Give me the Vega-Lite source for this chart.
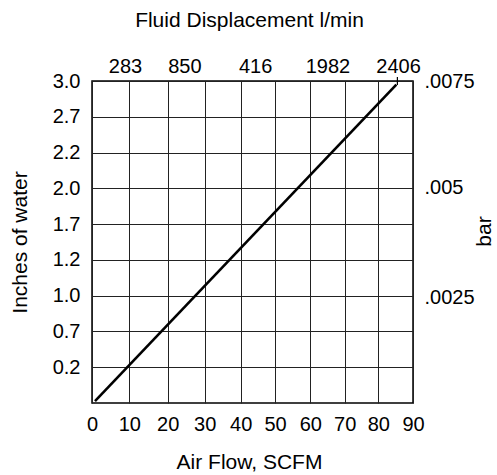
{
  "$schema": "https://vega.github.io/schema/vega-lite/v6.json",
  "autosize": "none",
  "padding": {"left": 92, "top": 81, "right": 84, "bottom": 72},
  "width": 321,
  "height": 322,
  "background": "white",
  "config": {
    "font": "Liberation Sans",
    "view": {"stroke": "black", "strokeWidth": 1.5},
    "axis": {
      "labelFont": "Liberation Sans",
      "titleFont": "Liberation Sans",
      "labelFontSize": 20,
      "titleFontSize": 21,
      "labelColor": "black",
      "titleColor": "black",
      "titleFontWeight": "normal",
      "domain": false,
      "ticks": false,
      "gridColor": "#222222",
      "gridWidth": 1,
      "gridOpacity": 1,
      "labelOverlap": false,
      "labelFlush": false
    }
  },
  "resolve": {"axis": {"x": "independent", "y": "independent"}},
  "layer": [
    {
      "data": {"values": [
        {"airflow": 0.8, "inches": 0.017},
        {"airflow": 85.2, "inches": 2.967}
      ]},
      "mark": {"type": "line", "color": "black", "strokeWidth": 2.6},
      "encoding": {
        "x": {
          "field": "airflow", "type": "quantitative",
          "scale": {"domain": [0, 10, 20, 30, 40, 50, 60, 70, 80, 90], "range": [0, 37.3, 75.7, 112.7, 148.7, 183, 218.3, 252.7, 286.3, 321], "nice": false, "zero": false},
          "axis": {"orient": "bottom", "title": "Air Flow, SCFM", "values": [0, 10, 20, 30, 40, 50, 60, 70, 80, 90], "grid": true, "labelPadding": 11, "titlePadding": 17, "titleX": 157}
        },
        "y": {
          "field": "inches", "type": "quantitative",
          "scale": {"domain": [0, 3], "nice": false, "zero": false},
          "axis": {
            "orient": "left", "title": "Inches of water", "grid": true,
            "values": [0.333333, 0.666667, 1, 1.333333, 1.666667, 2, 2.333333, 2.666667, 3],
            "labelExpr": "datum.value > 2.9 ? '3.0' : datum.value > 2.5 ? '2.7' : datum.value > 2.2 ? '2.2' : datum.value > 1.9 ? '2.0' : datum.value > 1.5 ? '1.7' : datum.value > 1.2 ? '1.2' : datum.value > 0.9 ? '1.0' : datum.value > 0.5 ? '0.7' : '0.2'",
            "labelPadding": 12, "titlePadding": 22, "titleAngle": -90
          }
        }
      }
    },
    {
      "data": {"values": [
        {"airflow": 85.5, "y1": 2.963, "y2": 3.037}
      ]},
      "mark": {"type": "rule", "color": "black", "strokeWidth": 1.2},
      "encoding": {
        "x": {
          "field": "airflow", "type": "quantitative",
          "axis": {
            "orient": "top", "title": "Fluid Displacement l/min",
            "values": [8.85, 24.5, 44.2, 65, 85.7],
            "labelExpr": "datum.value < 10 ? '283' : datum.value < 30 ? '850' : datum.value < 50 ? '416' : datum.value < 70 ? '1982' : '2406'",
            "grid": false, "labelPadding": 5, "titlePadding": 26, "titleX": 157
          }
        },
        "y": {
          "field": "y1", "type": "quantitative",
          "axis": {
            "orient": "right", "title": "bar", "grid": false,
            "values": [0.979, 2.01, 3],
            "labelExpr": "datum.value > 2.5 ? '.0075' : datum.value > 1.5 ? '.005' : '.0025'",
            "labelPadding": 11, "titlePadding": 20, "titleAngle": -90, "titleY": 150
          }
        },
        "y2": {"field": "y2"}
      }
    }
  ]
}
